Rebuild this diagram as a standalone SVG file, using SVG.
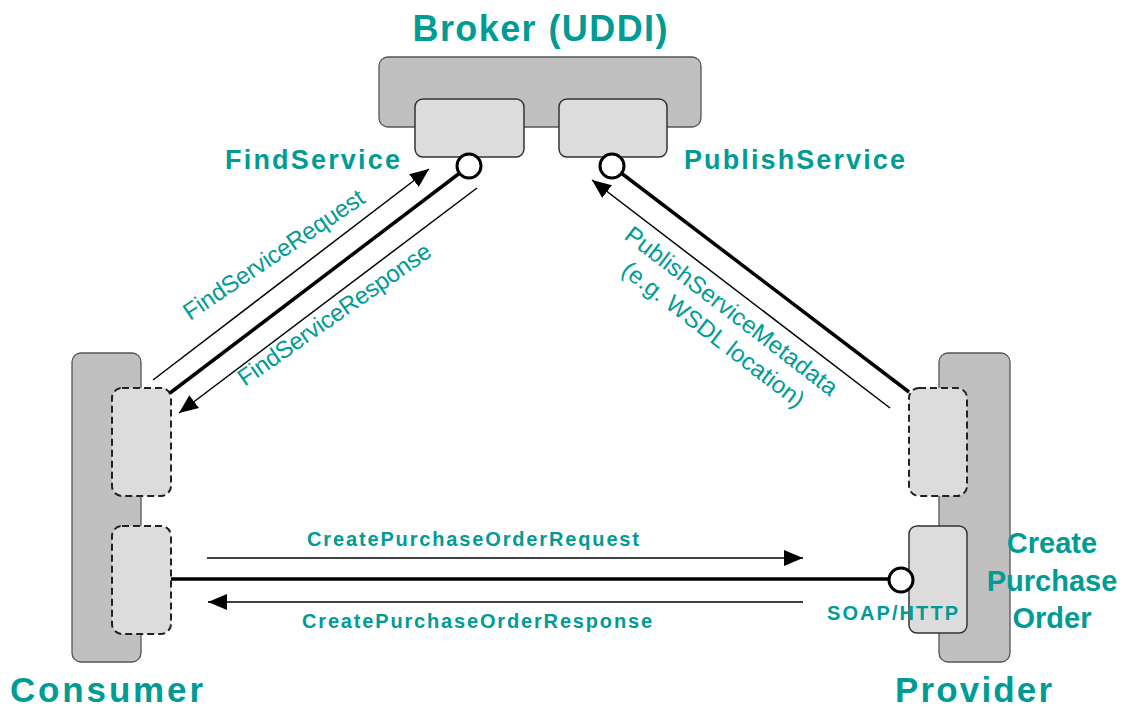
<svg xmlns="http://www.w3.org/2000/svg" width="1127" height="711" viewBox="0 0 1127 711">
<defs>
<style>
.big{fill:#c0c0c0;stroke:#555;stroke-width:1.3}
.port{fill:#dcdcdc;stroke:#333;stroke-width:1.5}
.dash{fill:#dcdcdc;stroke:#222;stroke-width:2;stroke-dasharray:7 4}
.thick{stroke:#000;stroke-width:3.5;fill:none}
.thin{stroke:#000;stroke-width:1.5;fill:none}
.ball{fill:#fff;stroke:#000;stroke-width:3}
.t{font-family:"Liberation Sans",Arial,sans-serif;fill:#009b95}
.b{font-weight:bold}
</style>
<marker id="ah" markerUnits="userSpaceOnUse" markerWidth="20" markerHeight="16" refX="19" refY="8" orient="auto">
<path d="M0,0 L19,8 L0,16 z" fill="#000"/>
</marker>
</defs>
<rect width="1127" height="711" fill="#fff"/>

<g id="broker">
<rect class="big" x="379" y="57" width="322" height="70" rx="9"/>
<rect class="port" x="415" y="99" width="109" height="58" rx="8"/>
<rect class="port" x="559" y="99" width="108" height="58" rx="8"/>
<text class="t b" x="540" y="41" font-size="36" text-anchor="middle" textLength="255">Broker (UDDI)</text>
<text class="t b" x="225" y="169" font-size="27" textLength="175">FindService</text>
<text class="t b" x="684" y="169" font-size="27" textLength="221">PublishService</text>
</g>

<g id="consumer">
<rect class="big" x="72" y="353" width="69" height="309" rx="9"/>
<rect class="dash" x="112" y="388" width="59" height="108" rx="10"/>
<rect class="dash" x="112" y="526" width="59" height="108" rx="10"/>
<text class="t b" x="10" y="702" font-size="35" textLength="193">Consumer</text>
</g>

<g id="provider">
<rect class="big" x="939" y="353" width="71" height="309" rx="9"/>
<rect class="dash" x="909" y="388" width="58" height="108" rx="10"/>
<rect class="port" x="909" y="526" width="58" height="107" rx="8"/>
<text class="t b" x="895" y="702" font-size="35" textLength="157">Provider</text>
<text class="t b" font-size="29" text-anchor="middle"><tspan x="1052" y="553">Create</tspan><tspan x="1052" y="591">Purchase</tspan><tspan x="1052" y="628">Order</tspan></text>
</g>

<g id="connectors">
<line class="thick" x1="469" y1="166" x2="170" y2="393"/>
<line class="thin" x1="153" y1="380" x2="429" y2="169" marker-end="url(#ah)"/>
<line class="thin" x1="477" y1="188" x2="179" y2="413" marker-end="url(#ah)"/>
<line class="thick" x1="612" y1="166" x2="909" y2="392"/>
<line class="thin" x1="890" y1="408" x2="592" y2="180" marker-end="url(#ah)"/>
<line class="thick" x1="171" y1="579" x2="889" y2="579"/>
<line class="thin" x1="207" y1="558" x2="803" y2="558" marker-end="url(#ah)"/>
<line class="thin" x1="803" y1="602" x2="208" y2="602" marker-end="url(#ah)"/>
<circle class="ball" cx="469" cy="166" r="12"/>
<circle class="ball" cx="612" cy="166" r="12"/>
<circle class="ball" cx="901" cy="580" r="12"/>
<text class="t" font-size="24" text-anchor="middle" textLength="213" transform="translate(278.3,261.4) rotate(-34)" x="0" y="0">FindServiceRequest</text>
<text class="t" font-size="24" text-anchor="middle" textLength="230" transform="translate(339,321) rotate(-35)" x="0" y="0">FindServiceResponse</text>
<text class="t" font-size="24" text-anchor="middle" transform="translate(726.5,317.5) rotate(37.5)"><tspan x="0" y="0" textLength="261">PublishServiceMetadata</tspan><tspan x="0" y="29.6" textLength="223">(e.g. WSDL location)</tspan></text>
<text class="t b" x="473" y="546" font-size="20" text-anchor="middle" textLength="332">CreatePurchaseOrderRequest</text>
<text class="t b" x="477" y="628" font-size="20" text-anchor="middle" textLength="350">CreatePurchaseOrderResponse</text>
<text class="t b" x="827" y="620" font-size="20" textLength="131">SOAP/HTTP</text>
</g>
</svg>
